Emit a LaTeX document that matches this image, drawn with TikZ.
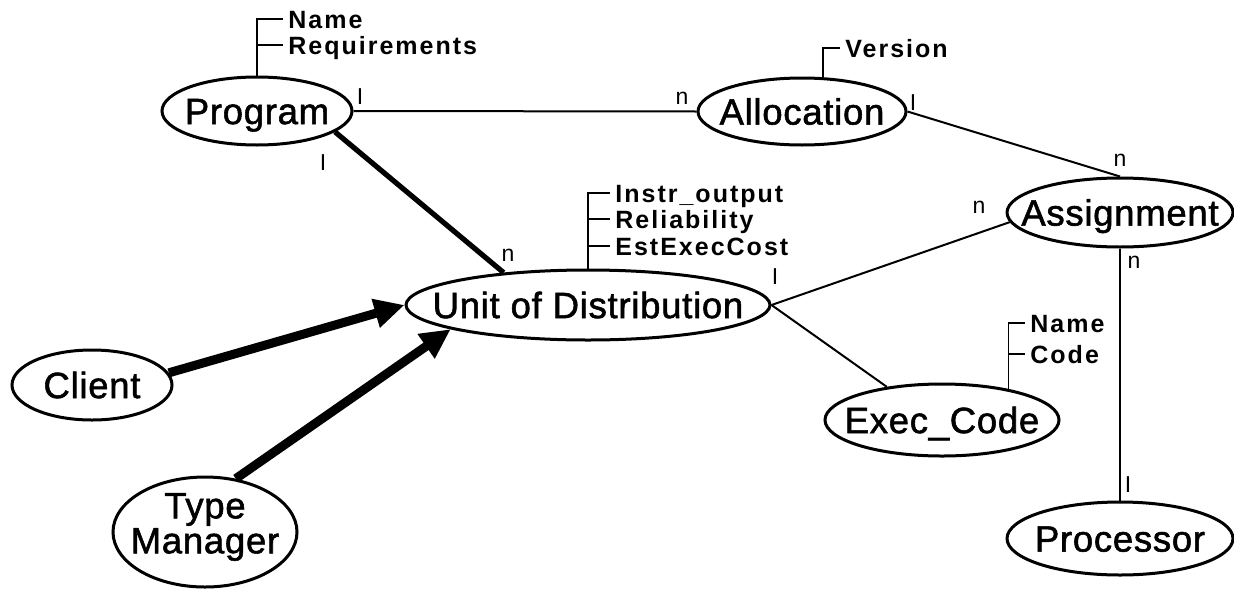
\documentclass[tikz,border=0pt]{standalone}
\usepackage{fontspec}
\setmainfont{Liberation Sans}
\newfontfamily\entfont{Liberation Sans}[LetterSpace=2, FakeBold=1.5]
\newfontfamily\attrfont{Liberation Sans}[LetterSpace=8]
\usetikzlibrary{shapes.geometric,arrows.meta}

\begin{document}
\begin{tikzpicture}[x=0.5pt,y=-0.5pt,
  entity/.style={draw, ellipse, line width=1.5pt, inner sep=0pt},
  ename/.style={inner sep=0pt, font=\entfont\fontsize{18.25}{18}\selectfont, text height=13.07pt, text depth=0pt},
  attr/.style={inner xsep=2.5pt, inner ysep=0pt, anchor=west, font=\attrfont\bfseries\fontsize{12.5}{14}\selectfont, text height=9pt, text depth=0pt},
  card/.style={inner sep=0pt, font=\fontsize{11.5}{13}\selectfont},
  rel/.style={line width=1pt},
  bracket/.style={line width=0.9pt},
  heavy/.style={line width=2.6pt},
  isa/.style={line width=4.5pt, -{Triangle[length=15pt,width=14pt]}}
]
\useasboundingbox (0,0) rectangle (1234,589);

% entities
\node[entity, minimum width=95pt,  minimum height=34pt]   (program)    at (257,111)   {};
\node[entity, minimum width=104pt, minimum height=33.5pt] (allocation) at (802,111.5) {};
\node[entity, minimum width=113pt, minimum height=34.5pt] (assignment) at (1120,212.5) {};
\node[entity, minimum width=182pt, minimum height=35pt]   (unit)       at (588,305)   {};
\node[entity, minimum width=80pt,  minimum height=35pt]   (client)     at (92,385)    {};
\node[entity, minimum width=92pt,  minimum height=55pt]   (typemgr)    at (205,532)   {};
\node[entity, minimum width=117pt, minimum height=36pt]   (exec)       at (942,420)   {};
\node[entity, minimum width=113pt, minimum height=36.5pt] (processor)  at (1120,538.5) {};

\node[ename] (program-t)    at (program)    {Program};
\node[ename] (allocation-t) at (allocation) {Allocation};
\node[ename] (assignment-t) at (assignment) {Assignment};
\node[ename] (unit-t)       at (unit)       {Unit of Distribution};
\node[ename] (client-t)     at (client)     {Client};
\node[inner sep=0pt, align=center, font=\entfont\fontsize{18.25}{17.5}\selectfont] (typemgr-t) at (205,527) {Type\\Manager};
\node[ename] (exec-t)       at (exec)       {Exec\_Code};
\node[ename] (processor-t)  at (processor)  {Processor};

% relationships
\draw[rel] (program.east) -- (allocation.west);
\draw[heavy] (program.-15) -- (unit.159);
\draw[rel] (allocation.east) -- (assignment.north);
\draw[rel] (unit.east) -- (assignment.185);
\draw[rel] (unit.east) -- (exec.149);
\draw[rel] (assignment.south) -- (processor.north);
\draw[isa] (client.9) -- (unit.west);
\draw[isa] (typemgr.60) -- (unit.190);

% attributes
\node[attr] (pname) at (283,19) {Name};
\node[attr] (preq)  at (283,45) {Requirements};
\draw[bracket] (program.north) |- (pname.west);
\draw[bracket] (program.north |- preq.west) -- (preq.west);

\node[attr] (version) at (840,48) {Version};
\draw[bracket] (allocation.59) |- (version.west);

\node[attr] (instr)   at (610,193) {Instr\_output};
\node[attr] (relia)   at (610,219) {Reliability};
\node[attr] (estcost) at (610,246) {EstExecCost};
\draw[bracket] (unit.north) |- (instr.west);
\draw[bracket] (unit.north |- relia.west) -- (relia.west);
\draw[bracket] (unit.north |- estcost.west) -- (estcost.west);

\node[attr] (xname) at (1025,323) {Name};
\node[attr] (xcode) at (1025,354) {Code};
\draw[bracket] (exec.25) |- (xname.west);
\draw[bracket] (exec.25 |- xcode.west) -- (xcode.west);

% cardinalities
\node[card] (c1)  at (360,97)   {I};
\node[card] (c2)  at (682,98)   {n};
\node[card] (c3)  at (323,163)  {I};
\node[card] (c4)  at (508,255)  {n};
\node[card] (c5)  at (913,103)  {I};
\node[card] (c6)  at (1120,160) {n};
\node[card] (c7)  at (775,277)  {I};
\node[card] (c8)  at (979,207)  {n};
\node[card] (c9)  at (1134,262) {n};
\node[card] (c10) at (1128,485) {I};
\end{tikzpicture}
\end{document}
